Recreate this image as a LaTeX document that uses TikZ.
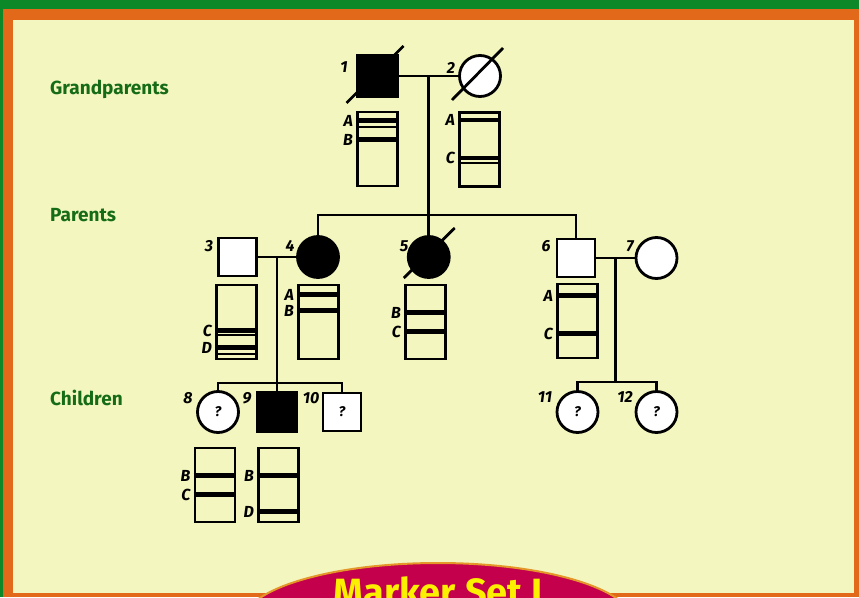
\documentclass[tikz,border=0pt]{standalone}
\usepackage{fontspec}
\setmainfont{Fira Sans}
\usepackage{tikz}
\usetikzlibrary{calc,positioning}
\definecolor{cream}{RGB}{244,246,192}
\definecolor{frameorange}{RGB}{226,104,26}
\definecolor{framegreen}{RGB}{12,136,40}
\definecolor{labelgreen}{RGB}{22,108,22}
\definecolor{setmagenta}{RGB}{196,0,76}
\definecolor{setyellow}{RGB}{250,240,0}
\definecolor{setrim}{RGB}{228,150,40}
\tikzstyle{male} = [rectangle, draw, line width=2.8pt, fill=white, minimum size=38pt, inner sep=0pt]
\tikzstyle{female} = [circle, draw, line width=2.8pt, fill=white, minimum size=41pt, inner sep=0pt]
\tikzstyle{affected} = [fill=black]
\tikzstyle{link} = [line width=2.8pt]
\tikzstyle{slash} = [line width=2.8pt]
\tikzstyle{gel} = [rectangle, draw, line width=2.7pt, minimum width=40pt, minimum height=74pt, inner sep=0pt]
\tikzstyle{band} = [line width=4.5pt]
\tikzstyle{thinband} = [line width=1.8pt]
\tikzstyle{num} = [font=\fontsize{16}{16}\selectfont\bfseries\itshape, inner sep=0pt]
\tikzstyle{query} = [font=\fontsize{14}{14}\selectfont\bfseries\itshape]
\tikzstyle{gen} = [font=\fontsize{19}{19}\selectfont\bfseries, text=labelgreen, inner sep=0pt, anchor=west]

\begin{document}
\begin{tikzpicture}[x=1pt, y=-1pt]
    \useasboundingbox (0,0) rectangle (859,597);
    \fill[framegreen] (0,0) rectangle (859,597);
    \fill[frameorange] (3,9) rectangle (859,597);
    \fill[cream] (13,20) rectangle (854,593);

    \node[gen] (gp) at (50,89) {Grandparents};
    \node[gen] (pa) at (50,215) {Parents};
    \node[gen] (ch) at (50,398) {Children};

    \node[male, affected, minimum size=41pt] (p1) at (377.5,76) {};
    \node[female] (p2) at (480,76) {};
    \draw[link] (p1) -- (p2);
    \coordinate (m12) at ($(p1.east)!.5!(p2.west)$);
    \coordinate (s2) at ($(m12)+(0,139)$);

    \node[male] (p3) at (237.5,257) {};
    \node[female, affected] (p4) at (318,257) {};
    \node[female, affected] (p5) at ($(m12)+(0,181)$) {};
    \node[male] (p6) at (576,258) {};
    \node[female] (p7) at (656.5,258) {};
    \draw[link] (p3) -- (p4);
    \draw[link] (p6) -- (p7);
    \coordinate (m34) at ($(p3.east)!.5!(p4.west)$);
    \coordinate (m67) at ($(p6.east)!.5!(p7.west)$);
    \coordinate (s3) at ($(m34)+(0,126)$);
    \coordinate (s4) at ($(m67)+(0,124)$);

    \node[female, query] (p8) at (218,412) {?};
    \node[male, affected, minimum size=39pt] (p9) at ($(m34)+(0,155)$) {};
    \node[male, query] (p10) at (342,412) {?};
    \node[female, query] (p11) at (577.5,412) {?};
    \node[female, query] (p12) at (656.5,412) {?};

    \draw[link] (m12) -- (s2);
    \draw[link] (p4.north) |- (s2) -| (p6.north);
    \draw[link] (s2) -- (p5.north);
    \draw[link] (m34) -- (p9);
    \draw[link] (p8.north) |- (s3) -| (p10.north);
    \draw[link] (m67) -- (s4);
    \draw[link] (p11.north) |- (s4) -| (p12.north);

    \draw[slash] ($(p1.center)+(-31,27)$) -- ($(p1.center)+(26,-30)$);
    \draw[slash] ($(p2.center)+(-28,24)$) -- ($(p2.center)+(23,-28)$);
    \draw[slash] ($(p5.center)+(-25,21)$) -- ($(p5.center)+(26,-29)$);

    \foreach \n/\x/\y in {1/344/67, 2/451/68, 3/209/246, 4/290/246, 5/404/246, 6/546/246, 7/630/246, 8/188/398, 9/247/398, 10/311/398, 11/545/397, 12/625/397}
        \node[num] (n\n) at (\x,\y) {\n};

    \node[gel] (g1) at (377.5,149) {};
    \node[gel] (g2) at (479.5,149.5) {};
    \node[gel] (g3) at (236.5,322) {};
    \node[gel] (g4) at (318.5,322) {};
    \node[gel] (g5) at (425.5,322) {};
    \node[gel] (g6) at (577.5,321) {};
    \node[gel] (g8) at (215,485) {};
    \node[gel] (g9) at (278.5,485) {};
    \foreach \g/\d/\l in {g1/10/A, g1/29/B, g2/9/A, g2/47/C, g3/47/C, g3/64/D, g4/11/A, g4/27/B, g5/29/B, g5/48/C, g6/13/A, g6/51/C, g8/29/B, g8/48/C, g9/29/B, g9/65/D} {
        \draw[band] ($(\g.north west)+(0,\d)$) -- ($(\g.north east)+(0,\d)$);
        \node[num, anchor=east] (\g\l) at ($(\g.north west)+(-3,\d)$) {\l};
    }
    \foreach \g/\d in {g1/16, g2/52, g3/51, g3/70}
        \draw[thinband] ($(\g.north west)+(0,\d)$) -- ($(\g.north east)+(0,\d)$);

    \begin{scope}
        \clip (0,0) rectangle (859,597);
        \draw[fill=setmagenta, draw=setrim, line width=2pt] (438,622) ellipse [x radius=195, y radius=59];
        \node[font=\fontsize{38}{40}\selectfont\bfseries, text=setyellow, anchor=base, inner sep=0pt] (setname) at (438,605) {Marker Set I};
    \end{scope}
\end{tikzpicture}
\end{document}
